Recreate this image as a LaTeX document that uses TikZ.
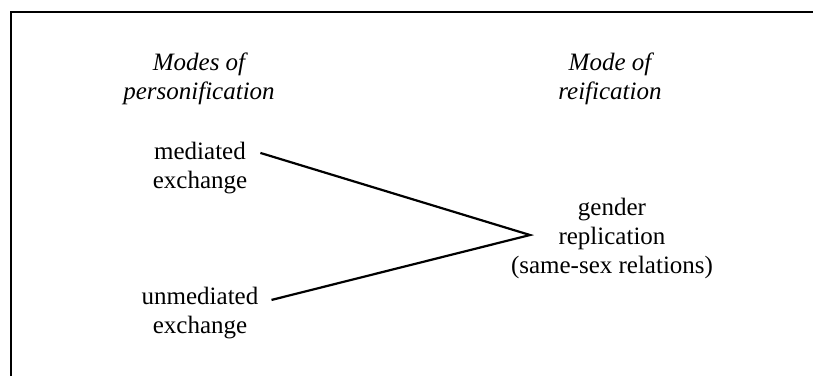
\documentclass[tikz,border=0pt]{standalone}
\usepackage{fontspec}
\setmainfont{Liberation Serif}
\begin{document}
\begin{tikzpicture}[x=1pt,y=-1pt,
  lbl/.style={align=center,inner sep=0pt,font=\fontsize{25}{29}\selectfont},
  hdr/.style={lbl,font=\fontsize{25}{29}\selectfont\itshape},
  conn/.style={line width=2.2pt},
  frame/.style={line width=2pt}]
\useasboundingbox (0,0) rectangle (813,376);
\draw[frame] (11,376) -- (11,12) -- (813,12);
\node[hdr] (hl) at (199,79) {Modes of\\personification};
\node[hdr] (hr) at (610,79) {Mode of\\reification};
\node[lbl] (med) at (200,168) {mediated\\exchange};
\node[lbl] (unm) at (200,313) {unmediated\\exchange};
\node[lbl] (gen) at (612,238) {gender\\replication\\(same-sex relations)};
\coordinate (apex) at (530,235);
\coordinate (m1) at ([xshift=13pt,yshift=-11pt]med.north east);
\coordinate (u1) at ([xshift=13pt,yshift=-13pt]unm.north east);
\draw[conn] (m1) -- (apex) -- (u1);
\end{tikzpicture}
\end{document}
